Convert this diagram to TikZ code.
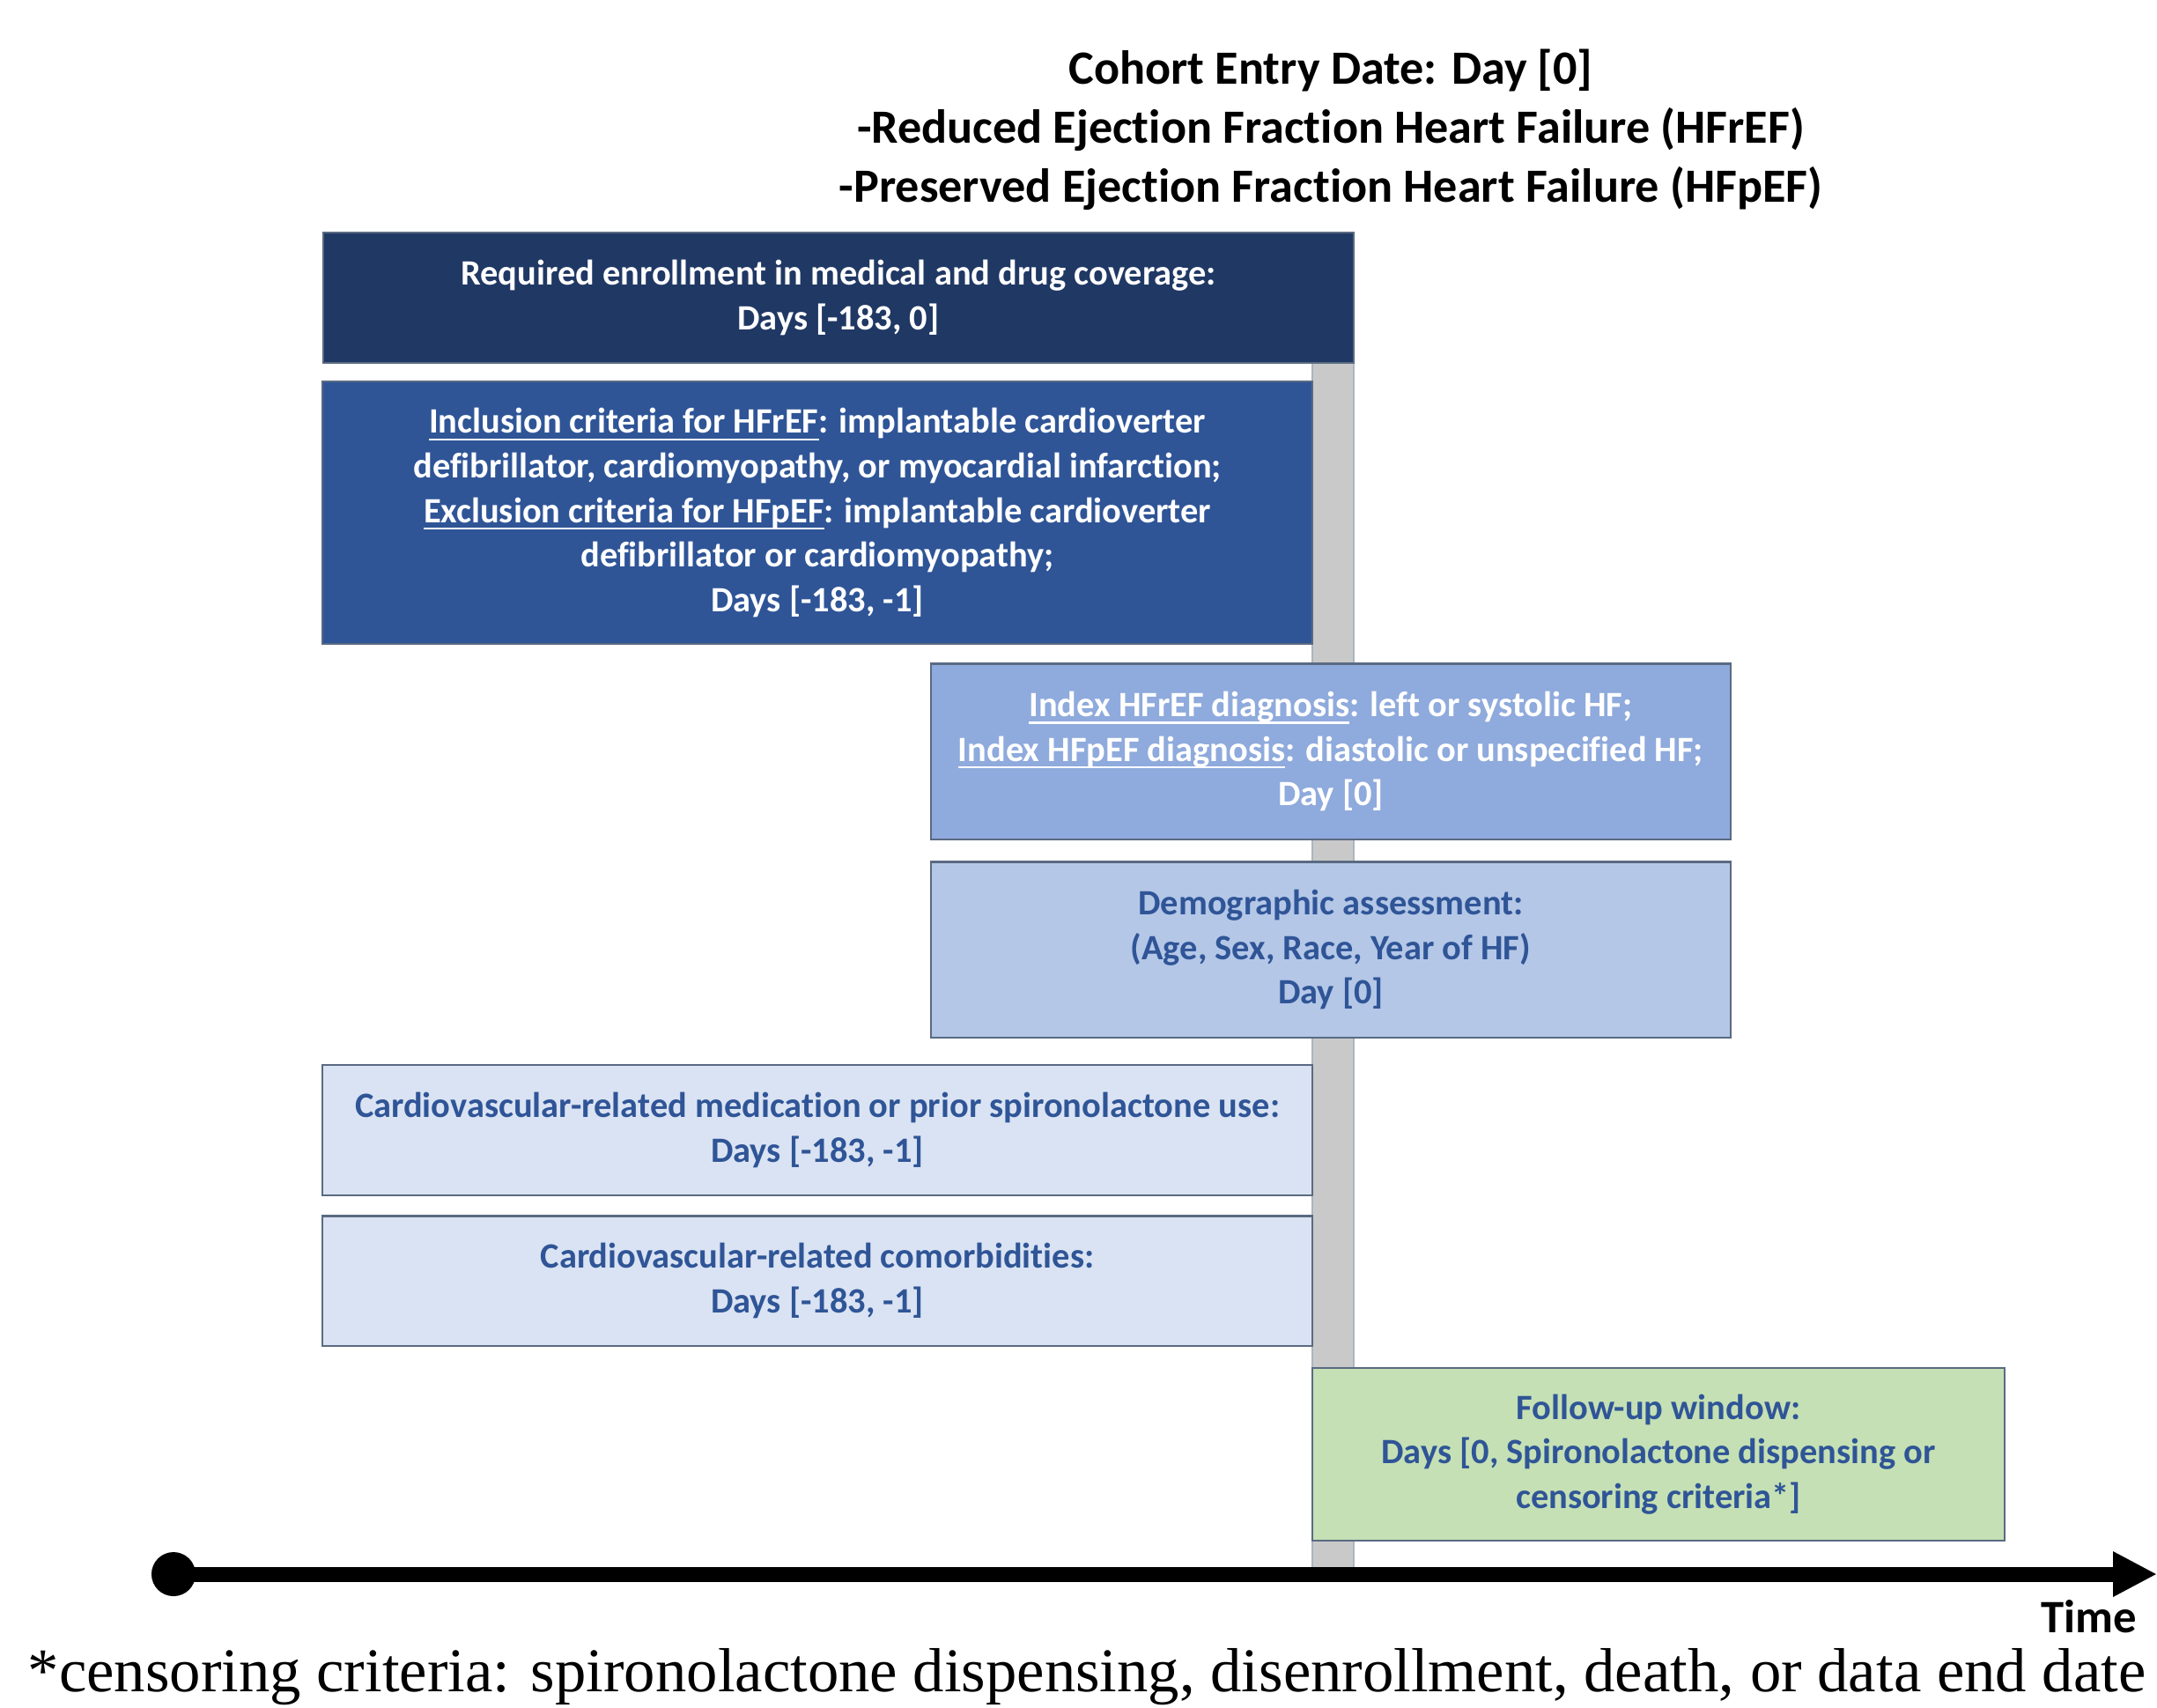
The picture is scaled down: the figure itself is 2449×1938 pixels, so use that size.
\documentclass[tikz,border=0pt]{standalone}
\usepackage{fontspec}
\setmainfont{Carlito}[Ligatures=NoCommon]
\newfontfamily\notefont{Liberation Serif}
\usetikzlibrary{arrows.meta}
\definecolor{NavyClr}{HTML}{203864}
\definecolor{DarkClr}{HTML}{2F5597}
\definecolor{MidClr}{HTML}{8FAADC}
\definecolor{LightClr}{HTML}{B4C7E7}
\definecolor{PaleClr}{HTML}{DAE3F3}
\definecolor{GreenClr}{HTML}{C5E0B4}
\definecolor{BarClr}{HTML}{C9C9C9}
\definecolor{EdgeClr}{HTML}{5A6A82}
\newsavebox\ulsave
\newcommand\undl[1]{\sbox\ulsave{#1}\rlap{\rule[-2.4pt]{\wd\ulsave}{0.7pt}}\usebox\ulsave}

\begin{document}
\begin{tikzpicture}[x=0.01cm,y=-0.01cm,
  box/.style={rectangle,draw=EdgeClr,line width=0.6pt,inner sep=0pt,align=center,
    font=\fontsize{11.5}{14.4}\selectfont\bfseries},
  wide/.style={minimum width=11.23cm},
  narrow/.style={minimum width=9.08cm},
  title/.style={align=center,font=\fontsize{15.4}{19}\selectfont\bfseries}]
\useasboundingbox (0,0) rectangle (2449,1938);

% day 0 bar
\draw[fill=BarClr,draw=EdgeClr!50,line width=0.6pt] (1490,412) rectangle (1537,1787);

\node[title] (entry) at (1511,147) {Cohort Entry Date: Day [0]\\
  -Reduced Ejection Fraction Heart Failure (HFrEF)\\
  -Preserved Ejection Fraction Heart Failure (HFpEF)};

\node[box,fill=NavyClr,text=white,minimum width=11.70cm,minimum height=1.48cm] (enrol) at (952,338)
  {Required enrollment in medical and drug coverage:\\Days [-183, 0]};
\node[box,wide,fill=DarkClr,text=white,minimum height=2.98cm] (crit) at (928,582)
  {\undl{Inclusion criteria for HFrEF}: implantable cardioverter\\
   defibrillator, cardiomyopathy, or myocardial infarction;\\
   \undl{Exclusion criteria for HFpEF}: implantable cardioverter\\
   defibrillator or cardiomyopathy;\\Days [-183, -1]};
\node[box,narrow,fill=MidClr,text=white,minimum height=1.99cm] (index) at (1511,853)
  {\undl{Index HFrEF diagnosis}: left or systolic HF;\\
   \undl{Index HFpEF diagnosis}: diastolic or unspecified HF;\\Day [0]};
\node[box,narrow,fill=LightClr,text=DarkClr,minimum height=1.99cm] (demo) at (1511,1078)
  {Demographic assessment:\\(Age, Sex, Race, Year of HF)\\Day [0]};
\node[box,wide,fill=PaleClr,text=DarkClr,minimum height=1.48cm] (meds) at (928,1283)
  {Cardiovascular-related medication or prior spironolactone use:\\Days [-183, -1]};
\node[box,wide,fill=PaleClr,text=DarkClr,minimum height=1.47cm] (comorb) at (928,1454)
  {Cardiovascular-related comorbidities:\\Days [-183, -1]};
\node[box,fill=GreenClr,text=DarkClr,minimum width=7.86cm,minimum height=1.96cm] (follow) at (1883,1651)
  {Follow-up window:\\Days [0, Spironolactone dispensing or\\censoring criteria*]};

% time axis
\node[circle,fill=black,inner sep=0pt,minimum size=0.5cm] (start) at (197,1787) {};
\coordinate (stop) at (2449,1787);
\draw[line width=0.17cm,-{Triangle[length=0.5cm,width=0.48cm]}] (start.center) -- (stop);
\node[font=\fontsize{15}{18}\selectfont\bfseries] (time) at (2372,1835) {Time};

\node[font=\notefont\fontsize{20.1}{24}\selectfont] (note) at (1234,1904)
  {*censoring criteria: spironolactone dispensing, disenrollment, death, or data end date};
\end{tikzpicture}
\end{document}
